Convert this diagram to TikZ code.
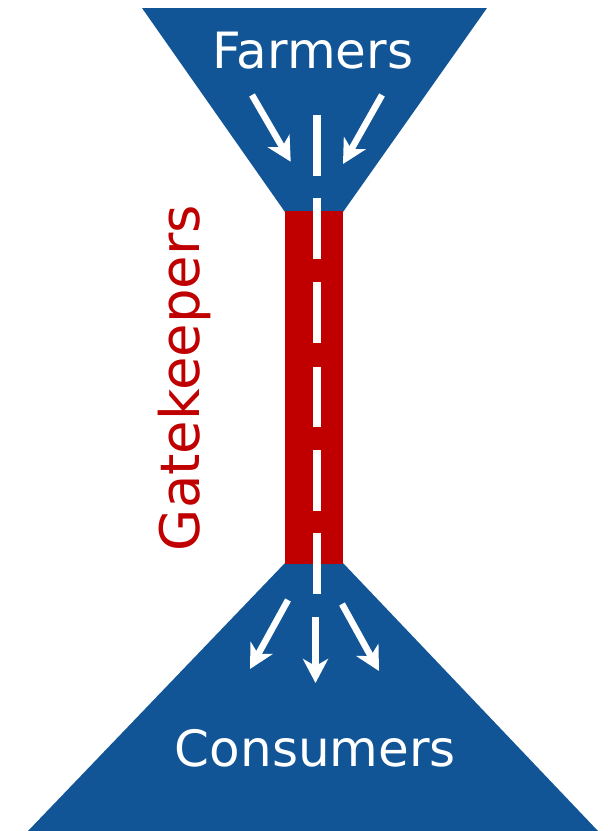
\documentclass[tikz,border=0pt]{standalone}
\usepackage{fontspec}
\setmainfont{DejaVu Sans}
\usetikzlibrary{arrows.meta}
\definecolor{funnelblue}{HTML}{115596}
\definecolor{gatered}{HTML}{C00000}
\tikzset{
  flow/.style={white,line width=6.5pt,-{Stealth[length=24pt,width=25pt,inset=7pt]}},
  dashline/.style={white,line width=8pt},
  lbl/.style={white,font=\fontsize{50}{54}\selectfont,inner sep=0pt,anchor=base}
}
\begin{document}
\begin{tikzpicture}[x=1pt,y=-1pt]
\useasboundingbox (0,0) rectangle (608,831);
\fill[white] (0,0) rectangle (608,831);
\fill[funnelblue] (142,8) -- (487,8) -- (343,212) -- (285,212) -- cycle;
\fill[funnelblue] (285,563) -- (343,563) -- (598,831) -- (28,831) -- cycle;
\fill[gatered] (284.5,211) rectangle (342.8,564);
\node[lbl] (farmers) at (313,68) {Farmers};
\node[lbl] (consumers) at (315.5,766) {Consumers};
\node[lbl,text=gatered,rotate=90,font=\fontsize{54.5}{58}\selectfont] (gate) at (199,378) {Gatekeepers};
\coordinate (s1) at (252,95); \coordinate (e1) at (290.7,161.7);
\coordinate (s2) at (382,95); \coordinate (e2) at (343,164);
\draw[flow] (s1) -- (e1);
\draw[flow] (s2) -- (e2);
\coordinate (d0) at (316.6,115); \coordinate (d1) at (316.6,176);
\coordinate (d2) at (316.6,198); \coordinate (d3) at (316.6,259);
\coordinate (d4) at (316.6,282); \coordinate (d5) at (316.6,343);
\coordinate (d6) at (316.6,366.5); \coordinate (d7) at (316.6,427);
\coordinate (d8) at (316.6,450); \coordinate (d9) at (316.6,510.5);
\coordinate (d10) at (316.6,533); \coordinate (d11) at (316.6,594);
\draw[dashline] (d0)--(d1) (d2)--(d3) (d4)--(d5) (d6)--(d7) (d8)--(d9) (d10)--(d11);
\coordinate (a0) at (315.5,617); \coordinate (a1) at (315.5,683);
\coordinate (b0) at (288,600); \coordinate (b1) at (250,669);
\coordinate (c0) at (342,604); \coordinate (c1) at (379,671);
\draw[flow] (a0) -- (a1);
\draw[flow] (b0) -- (b1);
\draw[flow] (c0) -- (c1);
\end{tikzpicture}
\end{document}
